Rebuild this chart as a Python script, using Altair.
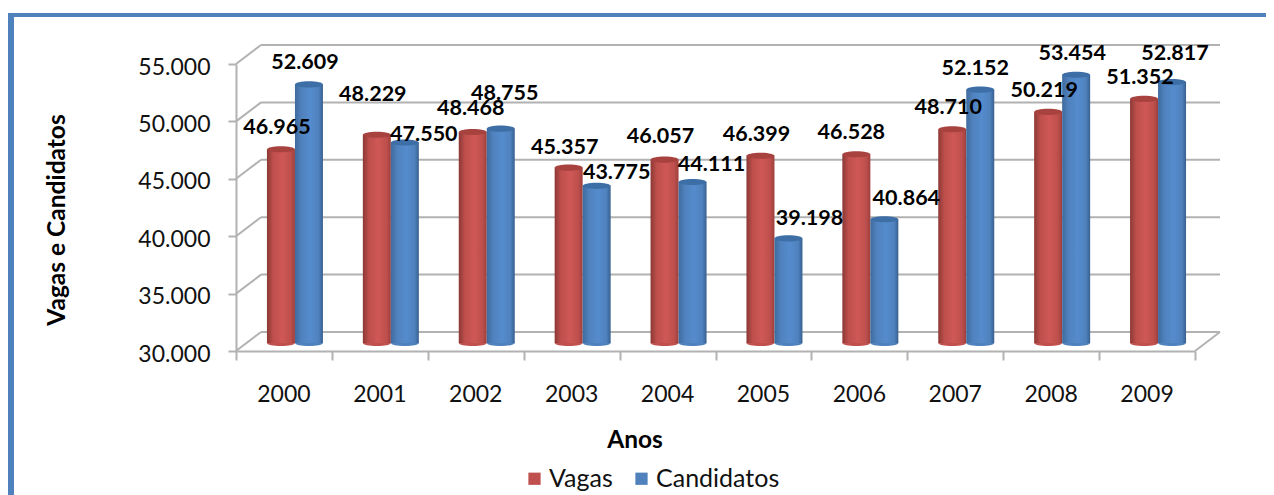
import altair as alt
import pandas as pd

ANOS = [2000, 2001, 2002, 2003, 2004, 2005, 2006, 2007, 2008, 2009]
VAGAS = [46965, 48229, 48468, 45357, 46057, 46399, 46528, 48710, 50219, 51352]
CANDIDATOS = [52609, 47550, 48755, 43775, 44111, 39198, 40864, 52152, 53454, 52817]
Y_TICKS = [30000, 35000, 40000, 45000, 50000, 55000]
X_EDGES = [1999.5 + i for i in range(11)]
# hand-placed label nudges of the original (dx, dy in px)
NUDGE_V = [(-7, -28), (-7, -47), (-5, -30), (-7, -27), (-7, -30), (-7, -28), (-8, -28), (-7, -28), (-7, -28), (-7, -28)]
NUDGE_C = [(21, -28), (44, -15), (29, -42), (45, -20), (44, -24), (46, -26), (47, -27), (20, -28), (21, -28), (28, -35)]

FONT = "Lato"
GRID = "#b2b2b2"
RED, BLUE = "#C0504D", "#4F81BD"
W, H = 959, 287
L, T, TOTAL_W, TOTAL_H = 228, 56, 1258, 487
DX, DY = 25, -19
BAR = 28

xs = alt.Scale(domain=[1999.5, 2009.5], nice=False, zero=False, padding=0)
ys = alt.Scale(domain=[30000, 55000], nice=False, zero=False, padding=0)
fmt = "replace(format(datum.value, ','), ',', '.')"
x_axis = alt.Axis(values=X_EDGES, labels=False, grid=False, tickSize=9, tickColor=GRID, domainColor=GRID,
                  tickWidth=2, domainWidth=2, orient="bottom", title=None)
y_axis = alt.Axis(values=Y_TICKS, grid=False, tickSize=8, tickColor=GRID, domainColor=GRID, tickWidth=2,
                  domainWidth=2, labelExpr=fmt, labelFont=FONT, labelFontSize=23, labelColor="#111111",
                  labelPadding=18, labelOffset=3, title=None)


def X(f):
    return alt.X(f, scale=xs, axis=x_axis)


def Y(f):
    return alt.Y(f, scale=ys, axis=y_axis)


d_ticks = pd.DataFrame({"v": Y_TICKS, "a": X_EDGES[0], "b": X_EDGES[-1]})
d_edges = pd.DataFrame({"e": X_EDGES})
d_bars = pd.DataFrame({"ano": ANOS, "Vagas": VAGAS, "Candidatos": CANDIDATOS})

layers = []

# frame of the chart area
for x1, x2, y1, y2 in [(-L, -L + 6, -51, TOTAL_H - T), (-L, TOTAL_W - L, -51, -47)]:
    layers.append(alt.Chart(d_edges.head(1)).mark_rect(color=BLUE).encode(
        x=alt.value(x1), x2=alt.value(x2), y=alt.value(y1), y2=alt.value(y2)))

# back wall gridlines and side diagonals
layers.append(alt.Chart(d_ticks).mark_rule(color=GRID, strokeWidth=2, xOffset=DX, x2Offset=DX, yOffset=DY).encode(
    x=X("a:Q"), x2="b:Q", y=Y("v:Q")))
layers.append(alt.Chart(d_ticks).mark_rule(color=GRID, strokeWidth=2, x2Offset=DX, y2Offset=DY).encode(
    x=X("a:Q"), x2="a:Q", y=Y("v:Q"), y2="v:Q"))
layers.append(alt.Chart(d_ticks.head(1)).mark_rule(color=GRID, strokeWidth=2, x2Offset=DX, y2Offset=DY).encode(
    x=X("b:Q"), x2="b:Q", y=Y("v:Q"), y2="v:Q"))

ELL = "M-1,0A1,0.22 0 1,1 1,0A1,0.22 0 1,1 -1,0Z"
SZ = 4 * (BAR / 2) ** 2


def grad(a, b, c, d):
    return alt.LinearGradient(gradient="linear", x1=0, x2=1, y1=0, y2=0, stops=[
        alt.GradientStop(offset=0, color=a), alt.GradientStop(offset=0.22, color=b),
        alt.GradientStop(offset=0.55, color=c), alt.GradientStop(offset=0.85, color=b),
        alt.GradientStop(offset=1, color=d)])


series = [
    ("Vagas", -3, grad("#8c3835", "#bd4f4c", "#cf5855", "#9c3f3c"), "#a8423f"),
    ("Candidatos", 25, grad("#3f6a9c", "#4f81bd", "#558ccd", "#38608f"), "#3d6fa6"),
]
leg = d_bars.melt(id_vars="ano", value_vars=["Vagas", "Candidatos"], var_name="serie", value_name="valor")
for name, off, g, top in series:
    sub = leg[leg.serie == name].assign(base=30000)
    layers.append(alt.Chart(sub).mark_point(shape=ELL, size=SZ, filled=True, opacity=1, xOffset=off, yOffset=-8).encode(
        x=X("ano:Q"), y=Y("base:Q"),
        color=alt.Color("serie:N", scale=alt.Scale(domain=["Vagas", "Candidatos"], range=[RED, BLUE]),
                        legend=alt.Legend(orient="none", legendX=522 - 8 - L, legendY=466 - 8 - T, direction="horizontal",
                                          title=None, symbolType="square", symbolSize=150, symbolOpacity=1,
                                          labelFont=FONT, labelFontSize=25, labelColor="#111111",
                                          labelOffset=2, columnPadding=16))))
    layers.append(alt.Chart(sub).mark_bar(size=BAR, orient="vertical", fill=g, xOffset=off, yOffset=-7, y2Offset=-8).encode(
        x=X("ano:Q"), y=Y("valor:Q"), y2="base:Q"))
    layers.append(alt.Chart(sub).mark_point(shape=ELL, size=SZ, filled=True, opacity=1, color=top, xOffset=off, yOffset=-7).encode(
        x=X("ano:Q"), y=Y("valor:Q")))

# year labels
d_years = pd.DataFrame({"ano": ANOS, "base": 30000})
layers.append(alt.Chart(d_years).mark_text(font=FONT, fontSize=23, color="#111111", dy=44).encode(
    x=X("ano:Q"), y=Y("base:Q"), text=alt.Text("ano:N")))

# hand-placed data labels
for vals, nudges in [(VAGAS, NUDGE_V), (CANDIDATOS, NUDGE_C)]:
    for ano, v, (dx, dy) in zip(ANOS, vals, nudges):
        row = pd.DataFrame({"ano": [ano], "v": [v], "t": [f"{v:,}".replace(",", ".")]})
        layers.append(alt.Chart(row).mark_text(font=FONT, fontSize=21.5, fontWeight="bold", color="black", dx=dx, dy=dy).encode(
            x=X("ano:Q"), y=Y("v:Q"), text="t:N"))

# axis titles
title_row = d_edges.head(1)
layers.append(alt.Chart(title_row).mark_text(text="Vagas e Candidatos", font=FONT, fontSize=24.5, fontWeight="bold",
                                             angle=270, color="black").encode(x=alt.value(58 - 8 - L), y=alt.value(220 - 8 - T)))
layers.append(alt.Chart(title_row).mark_text(text="Anos", font=FONT, fontSize=24.5, fontWeight="bold",
                                             color="black").encode(x=alt.value(635 - 8 - L), y=alt.value(441 - 8 - T)))

chart = alt.layer(*layers).properties(
    width=W, height=H, background="white",
    autosize=alt.AutoSizeParams(type="none"),
    padding={"left": L, "top": T, "right": TOTAL_W - L - W, "bottom": TOTAL_H - T - H},
).configure_view(stroke=None)

chart.save("out.html", embed_options={"renderer": "svg", "actions": False})
